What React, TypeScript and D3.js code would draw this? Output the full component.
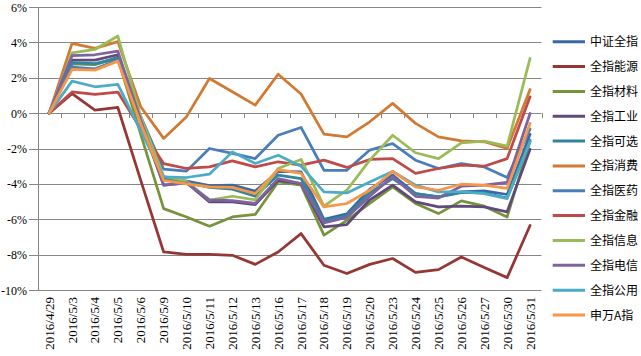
import React from "react";
import * as d3 from "d3";

const dates = ["2016/4/29","2016/5/3","2016/5/4","2016/5/5","2016/5/6","2016/5/9","2016/5/10","2016/5/11","2016/5/12","2016/5/13","2016/5/16","2016/5/17","2016/5/18","2016/5/19","2016/5/20","2016/5/23","2016/5/24","2016/5/25","2016/5/26","2016/5/27","2016/5/30","2016/5/31"];

const seriesNames = ["中证全指","全指能源","全指材料","全指工业","全指可选","全指消费","全指医药","全指金融","全指信息","全指电信","全指公用","申万A指"];
const seriesColors = ["#3B68A5","#953735","#77933C","#5F4A7B","#31859C","#D07A33","#4A7EBB","#BE4B48","#9BBB59","#7F63A1","#4BACC6","#F79646"];

const zz = [0, 2.8, 2.75, 3.15, -0.4, -3.7, -3.85, -4.1, -4.07, -4.41, -3.3, -3.32, -6.0, -5.7, -4.3, -3.5, -4.55, -4.74, -4.45, -4.4, -4.6, -1.2];
const ny = [0, 1.1, 0.17, 0.32, -3.8, -7.85, -7.98, -7.98, -8.04, -8.55, -7.85, -6.81, -8.6, -9.07, -8.55, -8.22, -9.0, -8.85, -8.13, -8.73, -9.3, -6.35];
const cl = [0, 2.8, 2.75, 3.1, -1.2, -5.4, -5.87, -6.4, -5.87, -5.73, -3.89, -4.07, -6.9, -6.06, -5.1, -4.17, -5.11, -5.68, -4.96, -5.26, -5.87, -1.6];
const gy = [0, 3.0, 3.0, 3.3, -0.5, -4.07, -3.94, -5.02, -5.02, -5.17, -3.8, -3.98, -6.43, -6.3, -4.9, -4.07, -5.02, -5.3, -5.26, -5.3, -5.58, -2.05];
const kx = [0, 2.85, 2.8, 3.1, -0.4, -3.75, -3.9, -4.2, -4.3, -4.7, -3.5, -3.7, -6.1, -5.8, -4.5, -3.7, -4.55, -4.74, -4.5, -4.5, -4.8, -1.53];
const xf = [0, 3.94, 3.66, 4.04, 0.36, -1.43, -0.2, 1.96, 1.21, 0.45, 2.2, 1.08, -1.19, -1.34, -0.49, 0.55, -0.58, -1.34, -1.57, -1.62, -2.0, 1.34];
const yy = [0, 2.6, 2.5, 3.0, -0.2, -3.17, -3.28, -2.0, -2.28, -2.57, -1.25, -0.81, -3.23, -3.23, -2.09, -1.72, -2.66, -3.13, -2.85, -3.04, -3.64, -0.9];
const jr = [0, 1.2, 1.06, 1.19, -0.9, -2.85, -3.13, -3.04, -2.7, -3.04, -2.75, -2.94, -2.66, -3.07, -2.62, -2.57, -3.41, -3.13, -2.94, -3.0, -2.57, 0.92];
const xx = [0, 3.41, 3.6, 4.36, -0.2, -3.57, -3.85, -4.92, -4.7, -4.9, -3.13, -2.62, -5.26, -4.36, -2.66, -1.25, -2.24, -2.57, -1.68, -1.58, -1.87, 3.09];
const dx = [0, 3.25, 3.3, 3.5, -0.4, -4.07, -3.94, -4.9, -4.95, -5.1, -3.7, -3.98, -6.2, -5.9, -4.7, -3.6, -4.7, -4.8, -4.13, -4.07, -3.92, -0.02];
const gg = [0, 1.81, 1.49, 1.62, -1.0, -3.6, -3.64, -3.45, -2.19, -2.85, -2.38, -3.0, -4.45, -4.51, -3.89, -3.3, -4.07, -4.45, -4.45, -4.55, -4.83, -1.6];
const sw = [0, 2.47, 2.43, 2.94, -0.6, -3.8, -4.0, -4.17, -4.2, -4.55, -3.19, -3.41, -5.3, -5.11, -4.36, -3.3, -4.17, -4.36, -4.02, -4.07, -4.26, -0.58];

const seriesValues = [zz, ny, cl, gy, kx, xf, yy, jr, xx, dx, gg, sw];
const yTicks = [6, 4, 2, 0, -2, -4, -6, -8, -10];

export default function App() {
  const W = 641, H = 356;
  const left = 37.7, right = 541.5, top = 7, bottom = 290;
  const x = d3.scaleBand<string>().domain(dates).range([left, right]).padding(0);
  const cx = (d: string) => (x(d) as number) + x.bandwidth() / 2;
  const y = d3.scaleLinear().domain([-10, 6]).range([bottom, top]);
  const line = d3.line<number>().x((_, i) => cx(dates[i])).y((v) => y(v));
  const grid = "#868686";
  const legY = d3.scaleLinear().domain([0, 11]).range([41.7, 315]);

  return (
    <svg width={W} height={H} style={{ position: "absolute", left: 0, top: 0, background: "#fff" }}>
      <rect x={0} y={0} width={W} height={H} fill="#fff" />
      {yTicks.map((t) => (
        <g key={t}>
          <line x1={29} x2={right} y1={Math.round(y(t)) + 0.5} y2={Math.round(y(t)) + 0.5} stroke={grid} strokeWidth={1} />
          <text x={27} y={y(t) + 4.5} textAnchor="end" fontFamily="Liberation Serif" fontSize={12} fill="#000">{t}%</text>
        </g>
      ))}
      <line x1={Math.round(left) + 0.5} x2={Math.round(left) + 0.5} y1={top} y2={bottom} stroke={grid} strokeWidth={1} />
      {d3.range(dates.length + 1).map((i) => {
        const xb = Math.round(left + i * x.bandwidth()) + 0.5;
        return <line key={i} x1={xb} x2={xb} y1={y(0)} y2={y(0) + 5} stroke={grid} strokeWidth={1} />;
      })}
      {dates.map((d) => (
        <text key={d} transform={`translate(${cx(d) + 4.5},${bottom + 7}) rotate(-90)`} textAnchor="end" fontFamily="Liberation Serif" fontSize={13} fill="#000">{d}</text>
      ))}
      {seriesValues.map((vals, k) => (
        <path key={k} d={line(vals) || ""} fill="none" stroke={seriesColors[k]} strokeWidth={2.75} strokeLinejoin="round" strokeLinecap="round" />
      ))}
      {seriesNames.map((n, k) => (
        <g key={n}>
          <line x1={552.7} x2={585} y1={legY(k)} y2={legY(k)} stroke={seriesColors[k]} strokeWidth={3} />
          <text x={590} y={legY(k) + 4.5} fontFamily="Noto Sans CJK SC" fontSize={12} fill="#000">{n}</text>
        </g>
      ))}
    </svg>
  );
}
